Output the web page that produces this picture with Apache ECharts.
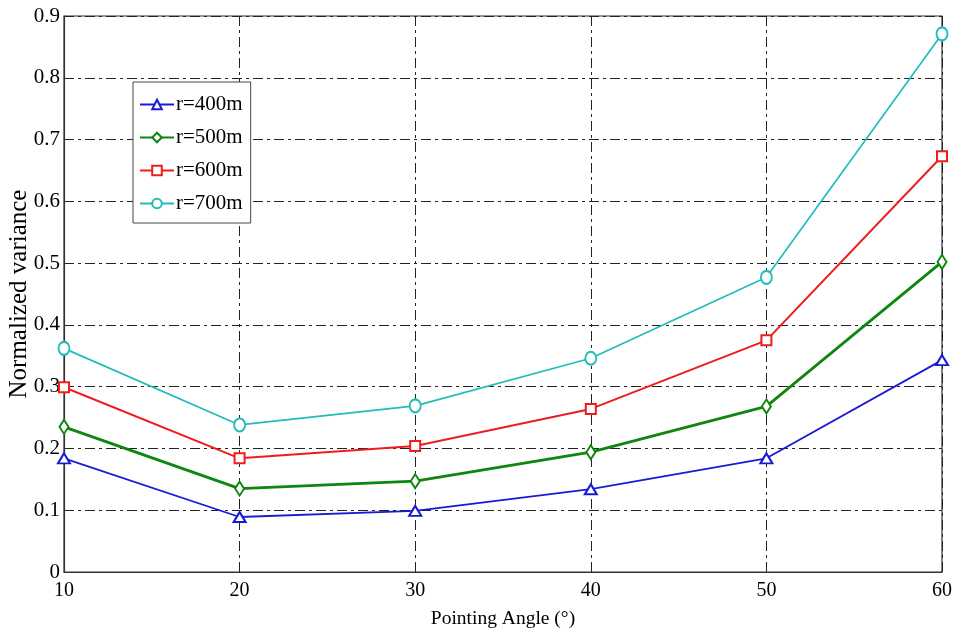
<!DOCTYPE html>
<html>
<head>
<meta charset="utf-8">
<script src="https://cdn.jsdelivr.net/npm/echarts@6/dist/echarts.min.js"></script>
<style>
  html, body { margin: 0; padding: 0; background: #fff; }
  #chart { width: 956px; height: 635px; }
</style>
</head>
<body>
<div id="chart"></div>
<script>
// Pointing angle (degrees) on the x axis
const angles = [10, 20, 30, 40, 50, 60];

// Normalized variance for each range r
const r400 = [0.184, 0.089, 0.099, 0.134, 0.184, 0.343];
const r500 = [0.235, 0.135, 0.147, 0.194, 0.268, 0.502];
const r600 = [0.299, 0.184, 0.204, 0.264, 0.375, 0.673];
const r700 = [0.362, 0.238, 0.269, 0.346, 0.477, 0.871];

const seriesNames = ['r=400m', 'r=500m', 'r=600m', 'r=700m'];

const font = 'Liberation Serif';
const gridDash = [10, 4, 3, 4];

function pairs(vals) {
  return angles.map((a, i) => [a, vals[i]]);
}

function makeSeries(name, vals, color, symbol, size, width) {
  return {
    name: name,
    type: 'line',
    data: pairs(vals),
    symbol: symbol,
    symbolSize: size,
    showSymbol: true,
    lineStyle: { color: color, width: width },
    itemStyle: { color: color, borderColor: color, borderWidth: 1.5 },
    emphasis: { disabled: true },
    z: 3
  };
}

const chart = echarts.init(document.getElementById('chart'));
chart.setOption({
  animation: false,
  backgroundColor: '#fff',
  grid: {
    left: 64, right: 14, top: 16, bottom: 63,
    outerBoundsMode: 'none',
    containLabel: false,
    show: true, borderColor: '#333', borderWidth: 1.2
  },
  legend: {
    left: 133, top: 82,
    orient: 'vertical',
    backgroundColor: '#fff',
    borderColor: '#444',
    borderWidth: 1,
    padding: [12, 8, 9, 6],
    itemGap: 12,
    itemWidth: 34,
    itemHeight: 12,
    textStyle: { fontFamily: font, fontSize: 21, color: '#000', padding: [0, 0, 0, -3] },
    data: seriesNames
  },
  xAxis: {
    type: 'value',
    min: 10, max: 60, interval: 10,
    name: 'Pointing Angle (°)',
    nameLocation: 'middle',
    nameGap: 37,
    nameMoveOverlap: false,
    nameTextStyle: { fontFamily: font, fontSize: 19.5, color: '#000' },
    axisLine: { show: true, lineStyle: { color: '#333', width: 1.2 } },
    axisTick: { show: false },
    axisLabel: { fontFamily: font, fontSize: 20, color: '#000', margin: 9 },
    splitLine: { show: true, lineStyle: { color: '#222', type: gridDash, width: 1 } }
  },
  yAxis: {
    type: 'value',
    min: 0, max: 0.9, interval: 0.1,
    name: 'Normalized variance',
    nameLocation: 'middle',
    nameGap: 32,
    nameMoveOverlap: false,
    nameTextStyle: { fontFamily: font, fontSize: 25, color: '#000' },
    axisLine: { show: true, lineStyle: { color: '#333', width: 1.2 } },
    axisTick: { show: false },
    axisLabel: {
      fontFamily: font, fontSize: 21, color: '#000', margin: 4,
      formatter: v => (v === 0 ? '0' : v.toFixed(1))
    },
    splitLine: { show: true, lineStyle: { color: '#222', type: gridDash, width: 1 } }
  },
  series: [
    makeSeries(seriesNames[0], r400, '#1a1ad6', 'emptyTriangle', [12, 10], 1.8),
    makeSeries(seriesNames[1], r500, '#0f860f', 'emptyDiamond', [9, 14], 2.8),
    makeSeries(seriesNames[2], r600, '#ee1c1c', 'emptyRect', 10, 2.0),
    makeSeries(seriesNames[3], r700, '#22bcbc', 'emptyCircle', [11, 13], 1.7)
  ]
});
</script>
</body>
</html>
